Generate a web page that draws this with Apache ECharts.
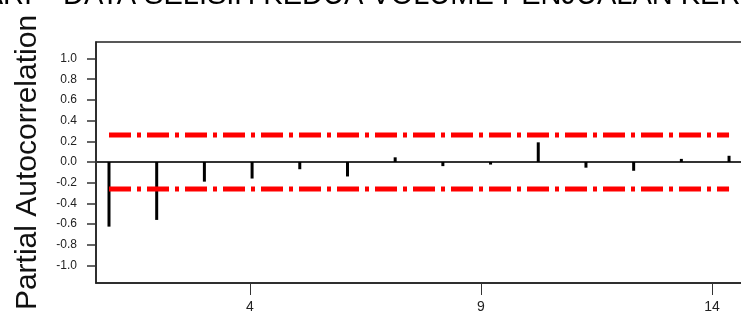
<!DOCTYPE html>
<html>
<head>
<meta charset="utf-8" />
<title>PACF</title>
<script src="https://cdn.jsdelivr.net/npm/echarts@6/dist/echarts.min.js"></script>
<style>
  html, body { margin: 0; padding: 0; background: #fff; }
  #chart { width: 741px; height: 327px; }
</style>
</head>
<body>
<div id="chart"></div>
<script>
// lag 1..14 partial autocorrelations
var lags = [1, 2, 3, 4, 5, 6, 7, 8, 9, 10, 11, 12, 13, 14];
var pacf = [-0.625, -0.56, -0.19, -0.16, -0.07, -0.14, 0.045, -0.04, -0.025, 0.19, -0.055, -0.085, 0.03, 0.06];
var limit = 0.26;
var xTicks = [4, 9, 14];
var yTicks = [-1.0, -0.8, -0.6, -0.4, -0.2, 0.0, 0.2, 0.4, 0.6, 0.8, 1.0];
var titleLeft = 'PACF DARI';
var titleRight = 'DATA SELISIH KEDUA VOLUME PENJUALAN KERTAS';
var yName = 'Partial Autocorrelation';

var font = 'Liberation Sans';
var chart = echarts.init(document.getElementById('chart'));

var barData = lags.map(function (l, i) { return [l, pacf[i]]; });
var first = lags[0], last = lags[lags.length - 1];

chart.setOption({
  animation: false,
  title: [
    { text: titleLeft, right: 709, top: -19, padding: 0,
      textStyle: { fontFamily: font, fontSize: 29, fontWeight: 'normal', color: '#000' } },
    { text: titleRight, left: 63, top: -19, padding: 0,
      textStyle: { fontFamily: font, fontSize: 29, fontWeight: 'normal', color: '#000' } }
  ],
  grid: {
    left: 96, top: 42, width: 665, bottom: 44,
    outerBoundsMode: 'none', containLabel: false,
    show: true, borderColor: '#222', borderWidth: 1.5, backgroundColor: '#fff'
  },
  xAxis: [
    { // axis used by the bars, its line is the zero line
      type: 'value', min: 0.7275, max: 14.67, position: 'bottom',
      axisLine: { show: true, onZero: true, lineStyle: { color: '#333', width: 2 } },
      axisTick: { show: false }, axisLabel: { show: false }, splitLine: { show: false }
    },
    { // visible lag ticks
      type: 'value', min: 0.667, max: 15.06, position: 'bottom',
      axisLine: { show: true, onZero: false, lineStyle: { color: '#222', width: 1.5 } },
      axisTick: { show: true, length: 12, customValues: xTicks, lineStyle: { color: '#333', width: 1 } },
      axisLabel: { show: true, customValues: xTicks, margin: 17, fontFamily: font, fontSize: 14, color: '#222' },
      splitLine: { show: false }
    }
  ],
  yAxis: {
    type: 'value', min: -1.17, max: 1.16,
    name: yName, nameLocation: 'middle', nameRotate: 90, nameGap: 53,
    nameTextStyle: { fontFamily: font, fontSize: 30, color: '#111' },
    axisLine: { show: true, lineStyle: { color: '#222', width: 1.5 } },
    axisTick: { show: true, length: 9, customValues: yTicks, lineStyle: { color: '#333', width: 1.5 } },
    axisLabel: {
      customValues: yTicks, margin: 19, fontFamily: font, fontSize: 12, color: '#222',
      formatter: function (v) { return v.toFixed(1); }
    },
    splitLine: { show: false }
  },
  series: [
    {
      type: 'bar', xAxisIndex: 0, data: barData, barWidth: 3,
      itemStyle: { color: '#000' }, z: 3
    },
    {
      type: 'line', xAxisIndex: 0, data: [[first, limit], [last, limit]],
      symbol: 'none', lineStyle: { color: '#ff0000', width: 5, type: [22, 6, 4, 6], cap: 'butt' }, z: 4
    },
    {
      type: 'line', xAxisIndex: 0, data: [[first, -limit], [last, -limit]],
      symbol: 'none', lineStyle: { color: '#ff0000', width: 5, type: [22, 6, 4, 6], cap: 'butt' }, z: 4
    }
  ]
});
</script>
</body>
</html>
